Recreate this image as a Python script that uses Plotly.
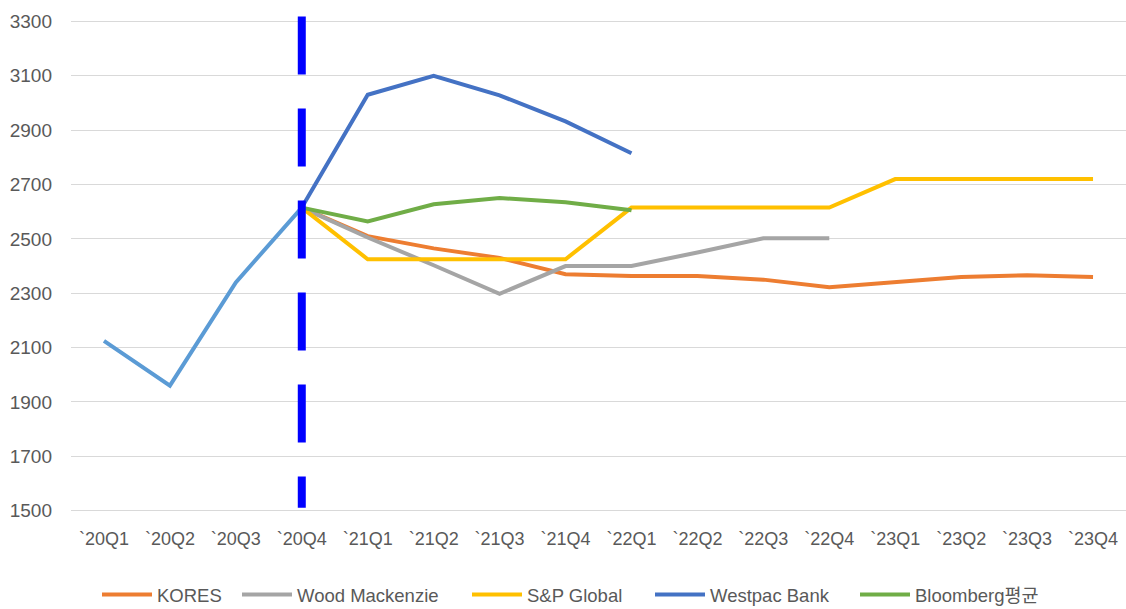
import plotly.graph_objects as go

# Quarterly price outlook (categories along the x axis)
quarters = ["`20Q1", "`20Q2", "`20Q3", "`20Q4", "`21Q1", "`21Q2", "`21Q3", "`21Q4",
            "`22Q1", "`22Q2", "`22Q3", "`22Q4", "`23Q1", "`23Q2", "`23Q3", "`23Q4"]

# Actual values up to `20Q4
actual = [2125, 1960, 2340, 2615] + [None] * 12

# Forecasts, each starting from the `20Q4 actual
kores = [None, None, None, 2615, 2510, 2465, 2430, 2370, 2363, 2363, 2350, 2322, 2340, 2360, 2366, 2360]
wood_mackenzie = [None, None, None, 2615, 2505, 2403, 2298, 2400, 2400, 2450, 2502, 2502, None, None, None, None]
sp_global = [None, None, None, 2615, 2425, 2425, 2425, 2425, 2615, 2615, 2615, 2615, 2720, 2720, 2720, 2720]
westpac = [None, None, None, 2615, 3030, 3100, 3028, 2932, 2815, None, None, None, None, None, None, None]
bloomberg = [None, None, None, 2615, 2564, 2627, 2650, 2635, 2605, None, None, None, None, None, None, None]

# name, values, colour, legend entry width (px)
series = [
    ("KORES", kores, "#ED7D31", 75),
    ("Wood Mackenzie", wood_mackenzie, "#A5A5A5", 165),
    ("S&P Global", sp_global, "#FFC000", 118),
    ("Westpac Bank", westpac, "#4472C4", 140),
    ("Bloomberg평균", bloomberg, "#70AD47", 0),
]

FONT = "Liberation Sans, Arial, Noto Sans CJK KR, sans-serif"
TEXT = "#595959"

fig = go.Figure()

fig.add_trace(go.Scatter(x=quarters, y=actual, mode="lines", showlegend=False,
                         line=dict(color="#5B9BD5", width=4), hoverinfo="skip"))

for name, values, color, lw in series:
    fig.add_trace(go.Scatter(x=quarters, y=values, mode="lines", name=name,
                             line=dict(color=color, width=4),
                             legendwidth=lw if lw else None))

# Dashed marker separating actuals from forecasts
split_idx = quarters.index("`20Q4")
fig.add_shape(type="line", xref="x", yref="y", x0=split_idx, x1=split_idx,
              y0=3318, y1=1511, layer="above",
              line=dict(color="#0000FF", width=8, dash="58px,34px"))

fig.update_layout(
    width=1126, height=609,
    margin=dict(l=71, r=0, t=16, b=97),
    paper_bgcolor="white", plot_bgcolor="white",
    font=dict(family=FONT, color=TEXT),
    xaxis=dict(type="category", range=[-0.5, len(quarters) - 0.5], automargin=False,
               showgrid=False, zeroline=False, showline=False,
               ticks="", tickfont=dict(size=18, color=TEXT), ticklabelstandoff=14,
               fixedrange=True),
    yaxis=dict(range=[1495, 3320], tickvals=list(range(1500, 3301, 200)), automargin=False,
               showgrid=True, gridcolor="#D9D9D9", gridwidth=1, zeroline=False,
               showline=False, ticks="", tickfont=dict(size=19, color=TEXT),
               ticklabelstandoff=18, fixedrange=True),
    legend=dict(orientation="h", xref="container", yref="container",
                x=97 / 1126, xanchor="left", y=(609 - 595) / 609, yanchor="middle",
                font=dict(size=18.5, color=TEXT), itemwidth=50, bgcolor="rgba(0,0,0,0)"),
    showlegend=True,
)

fig.write_html("out.html")
